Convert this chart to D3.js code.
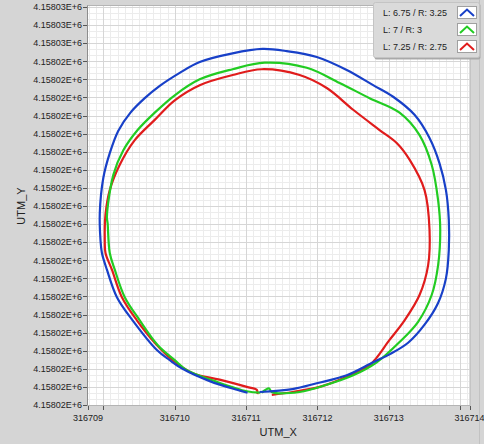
<!DOCTYPE html>
<html>
<head>
<meta charset="utf-8">
<script src="https://cdn.jsdelivr.net/npm/d3@7"></script>
<style>
	html, body { margin: 0; padding: 0; background: #d5d5d5; }
	svg { display: block; font-family: "Liberation Sans", Arial, sans-serif; }
</style>
</head>
<body>
<svg id="chart" width="484" height="444"></svg>
<script>
// Track points, [UTM_X, UTM_Y]
const trackBlue = [
	[316711.19, 4158020.18], [316711.65, 4158020.22], [316711.99, 4158020.30], [316712.41, 4158020.41],
	[316712.78, 4158020.59], [316713.01, 4158020.70], [316713.27, 4158020.86], [316713.50, 4158021.11],
	[316713.69, 4158021.41], [316713.80, 4158021.75], [316713.84, 4158022.14], [316713.84, 4158022.56],
	[316713.80, 4158022.97], [316713.71, 4158023.34], [316713.57, 4158023.69], [316713.36, 4158024.01],
	[316713.06, 4158024.26], [316712.78, 4158024.42], [316712.41, 4158024.63], [316711.99, 4158024.81],
	[316711.57, 4158024.89], [316711.23, 4158024.92], [316710.81, 4158024.86], [316710.35, 4158024.74],
	[316710.07, 4158024.59], [316709.79, 4158024.41], [316709.58, 4158024.24], [316709.38, 4158024.04],
	[316709.21, 4158023.79], [316709.09, 4158023.48], [316709.00, 4158023.14], [316708.95, 4158022.65],
	[316708.96, 4158022.28], [316708.98, 4158022.10], [316709.05, 4158021.87], [316709.19, 4158021.49],
	[316709.41, 4158021.17], [316709.75, 4158020.76], [316709.93, 4158020.62], [316710.11, 4158020.50],
	[316710.49, 4158020.33], [316710.87, 4158020.21], [316711.02, 4158020.17]
]
const trackGreen = [
	[316711.22, 4158020.17], [316711.32, 4158020.23], [316711.36, 4158020.18], [316711.75, 4158020.18],
	[316712.13, 4158020.28], [316712.50, 4158020.41], [316712.83, 4158020.59], [316713.15, 4158020.87],
	[316713.41, 4158021.15], [316713.60, 4158021.52], [316713.69, 4158021.93], [316713.72, 4158022.42],
	[316713.69, 4158022.83], [316713.60, 4158023.32], [316713.43, 4158023.73], [316713.15, 4158024.04],
	[316712.73, 4158024.24], [316712.31, 4158024.45], [316711.85, 4158024.66], [316711.26, 4158024.73],
	[316710.81, 4158024.64], [316710.35, 4158024.50], [316710.00, 4158024.28], [316709.72, 4158024.04],
	[316709.48, 4158023.80], [316709.28, 4158023.52], [316709.14, 4158023.18], [316709.05, 4158022.60],
	[316709.06, 4158022.51], [316709.09, 4158022.10], [316709.16, 4158021.87], [316709.30, 4158021.49],
	[316709.51, 4158021.17], [316709.76, 4158020.83], [316710.00, 4158020.62], [316710.17, 4158020.48],
	[316710.59, 4158020.32], [316711.01, 4158020.19], [316711.20, 4158020.17]
]
const trackRed = [
	[316711.36, 4158020.14], [316711.65, 4158020.18], [316712.03, 4158020.25], [316712.41, 4158020.39],
	[316712.73, 4158020.55], [316713.01, 4158020.90], [316713.22, 4158021.17], [316713.43, 4158021.52],
	[316713.55, 4158021.93], [316713.57, 4158022.42], [316713.50, 4158022.97], [316713.29, 4158023.39],
	[316713.11, 4158023.62], [316712.87, 4158023.80], [316712.50, 4158024.08], [316712.13, 4158024.38],
	[316711.75, 4158024.56], [316711.22, 4158024.64], [316710.81, 4158024.56], [316710.35, 4158024.42],
	[316710.00, 4158024.21], [316709.72, 4158023.94], [316709.44, 4158023.66], [316709.23, 4158023.32],
	[316709.09, 4158022.97], [316709.03, 4158022.63], [316709.02, 4158022.28], [316709.03, 4158022.10],
	[316709.12, 4158021.87], [316709.26, 4158021.49], [316709.47, 4158021.17], [316709.72, 4158020.86],
	[316709.97, 4158020.62], [316710.25, 4158020.44], [316710.63, 4158020.35], [316711.01, 4158020.25],
	[316711.15, 4158020.21], [316711.16, 4158020.15]
]

const seriesNames = ["L: 6.75 / R: 3.25", "L: 7 / R: 3", "L: 7.25 / R: 2.75"]
const seriesColours = ["#1840c8", "#22cc22", "#e01c1c"]
const seriesTracks = [trackBlue, trackGreen, trackRed]

const xDomain = [316708.785, 316714.13]
const yDomain = [4158020, 4158025.5]
const xMajor = [316709, 316710, 316711, 316712, 316713, 316714]
const xLabelled = [316710, 316711, 316712, 316713]
const yMajorStep = 0.25

const plotLeft = 88, plotRight = 469.5, plotTop = 7, plotBottom = 405

const svg = d3.select("#chart")
const x = d3.scaleLinear().domain(xDomain).range([plotLeft, plotRight])
const y = d3.scaleLinear().domain(yDomain).range([plotBottom, plotTop])

const yMajor = d3.range(0, 23).map(i => yDomain[0] + i * yMajorStep)
const xMinor = d3.range(3167088, 3167142).map(v => v / 10).filter(v => !xMajor.includes(v))
const yMinor = d3.range(0, 67).map(i => yDomain[0] + i / 12).filter((v, i) => i % 3 != 0)

// right hand strip line
svg.append("line")
	.attr("x1", 479.5).attr("x2", 479.5).attr("y1", 0).attr("y2", 444)
	.attr("stroke", "#c2c2c2")

// plot background
svg.append("rect")
	.attr("x", plotLeft - 0.5).attr("y", plotTop - 1.5)
	.attr("width", plotRight - plotLeft + 1).attr("height", plotBottom - plotTop + 2)
	.attr("fill", "#ffffff")

svg.append("clipPath").attr("id", "clip")
	.append("rect")
	.attr("x", plotLeft).attr("y", plotTop - 1)
	.attr("width", plotRight - plotLeft).attr("height", plotBottom - plotTop + 1.5)

const grid = svg.append("g").attr("clip-path", "url(#clip)")

grid.selectAll("line.xminor")
	.data(xMinor)
	.join("line")
	.attr("class", "xminor")
	.attr("x1", d => Math.round(x(d)) + 0.5).attr("x2", d => Math.round(x(d)) + 0.5)
	.attr("y1", plotTop - 2).attr("y2", plotBottom + 1)
	.attr("stroke", "#ececec")

grid.selectAll("line.yminor")
	.data(yMinor)
	.join("line")
	.attr("class", "yminor")
	.attr("y1", d => Math.round(y(d)) + 0.5).attr("y2", d => Math.round(y(d)) + 0.5)
	.attr("x1", plotLeft).attr("x2", plotRight)
	.attr("stroke", "#ececec")

grid.selectAll("line.xmajor")
	.data(xMajor)
	.join("line")
	.attr("class", "xmajor")
	.attr("x1", d => Math.round(x(d)) + 0.5).attr("x2", d => Math.round(x(d)) + 0.5)
	.attr("y1", plotTop - 2).attr("y2", plotBottom + 1)
	.attr("stroke", "#d6d6d6")

grid.selectAll("line.ymajor")
	.data(yMajor)
	.join("line")
	.attr("class", "ymajor")
	.attr("y1", d => Math.round(y(d)) + 0.5).attr("y2", d => Math.round(y(d)) + 0.5)
	.attr("x1", plotLeft).attr("x2", plotRight)
	.attr("stroke", "#d6d6d6")

// plot frame
svg.append("rect")
	.attr("x", plotLeft - 0.5).attr("y", plotTop - 1.5)
	.attr("width", plotRight - plotLeft + 1).attr("height", plotBottom - plotTop + 2)
	.attr("fill", "none")
	.attr("stroke", "#b4b4b4")
svg.append("line")
	.attr("x1", plotLeft - 0.5).attr("x2", plotLeft - 0.5)
	.attr("y1", plotTop - 1.5).attr("y2", plotBottom + 0.5)
	.attr("stroke", "#8c8c8c")

// tracks, red underneath and blue on top
const line = d3.line()
	.x(d => x(d[0]))
	.y(d => y(d[1]))
	.curve(d3.curveCatmullRom.alpha(0.5))
const plots = svg.append("g").attr("clip-path", "url(#clip)")
plots.selectAll("path")
	.data(d3.range(seriesTracks.length).reverse())
	.join("path")
	.attr("d", i => line(seriesTracks[i]))
	.attr("fill", "none")
	.attr("stroke", i => seriesColours[i])
	.attr("stroke-width", 2.2)
	.attr("stroke-linejoin", "round")

// y axis
const yAxis = svg.append("g").attr("font-size", 9).attr("fill", "#222")
yAxis.selectAll("line")
	.data(yMajor)
	.join("line")
	.attr("x1", plotLeft - 5).attr("x2", plotLeft - 1)
	.attr("y1", d => Math.round(y(d)) + 0.5).attr("y2", d => Math.round(y(d)) + 0.5)
	.attr("stroke", "#555")
yAxis.selectAll("text")
	.data(yMajor)
	.join("text")
	.attr("x", plotLeft - 6)
	.attr("y", d => y(d) + 3.3)
	.attr("text-anchor", "end")
	.text(d => d.toExponential(5).replace("e", "E"))

// x axis
const xAxis = svg.append("g").attr("font-size", 9).attr("fill", "#222")
xAxis.selectAll("line")
	.data(xMajor.concat(xDomain))
	.join("line")
	.attr("x1", d => Math.round(x(d)) + 0.5).attr("x2", d => Math.round(x(d)) + 0.5)
	.attr("y1", plotBottom + 1).attr("y2", plotBottom + 5)
	.attr("stroke", "#555")
xAxis.selectAll("text")
	.data(xLabelled.concat(xDomain))
	.join("text")
	.attr("x", d => x(d))
	.attr("y", plotBottom + 16)
	.attr("text-anchor", "middle")
	.text(d => d3.format("d")(Math.round(d)))

// axis titles
svg.append("text")
	.attr("x", (plotLeft + plotRight) / 2 - 0.5).attr("y", 436)
	.attr("text-anchor", "middle")
	.attr("font-size", 11).attr("fill", "#222")
	.text("UTM_X")
svg.append("text")
	.attr("transform", "translate(25,206) rotate(-90)")
	.attr("text-anchor", "middle")
	.attr("font-size", 11).attr("fill", "#222")
	.text("UTM_Y")

// legend
const legend = svg.append("g").attr("transform", "translate(373,2)")
legend.append("rect")
	.attr("x", 1.5).attr("y", 1.5).attr("width", 106).attr("height", 56)
	.attr("fill", "#a9a9a9").attr("rx", 2)
legend.append("rect")
	.attr("x", 0.5).attr("y", 0.5).attr("width", 106).attr("height", 55)
	.attr("fill", "#dadada").attr("stroke", "#c4c4c4").attr("rx", 2)

const entry = legend.selectAll("g.element")
	.data(seriesNames)
	.join("g")
	.attr("class", "element")
	.attr("transform", (d, i) => `translate(0, ${4 + i * 17})`)
entry.append("text")
	.attr("x", 10).attr("y", 9.5)
	.attr("font-size", 9).attr("fill", "#222")
	.text(d => d)
entry.append("rect")
	.attr("x", 84.5).attr("y", 0.5).attr("width", 19).attr("height", 12)
	.attr("fill", "#ffffff").attr("stroke", "#a0a0a0")
entry.append("path")
	.attr("d", "M87,10 L94,3.5 L101,10")
	.attr("fill", "none")
	.attr("stroke", (d, i) => seriesColours[i])
	.attr("stroke-width", 2)
</script>
</body>
</html>
